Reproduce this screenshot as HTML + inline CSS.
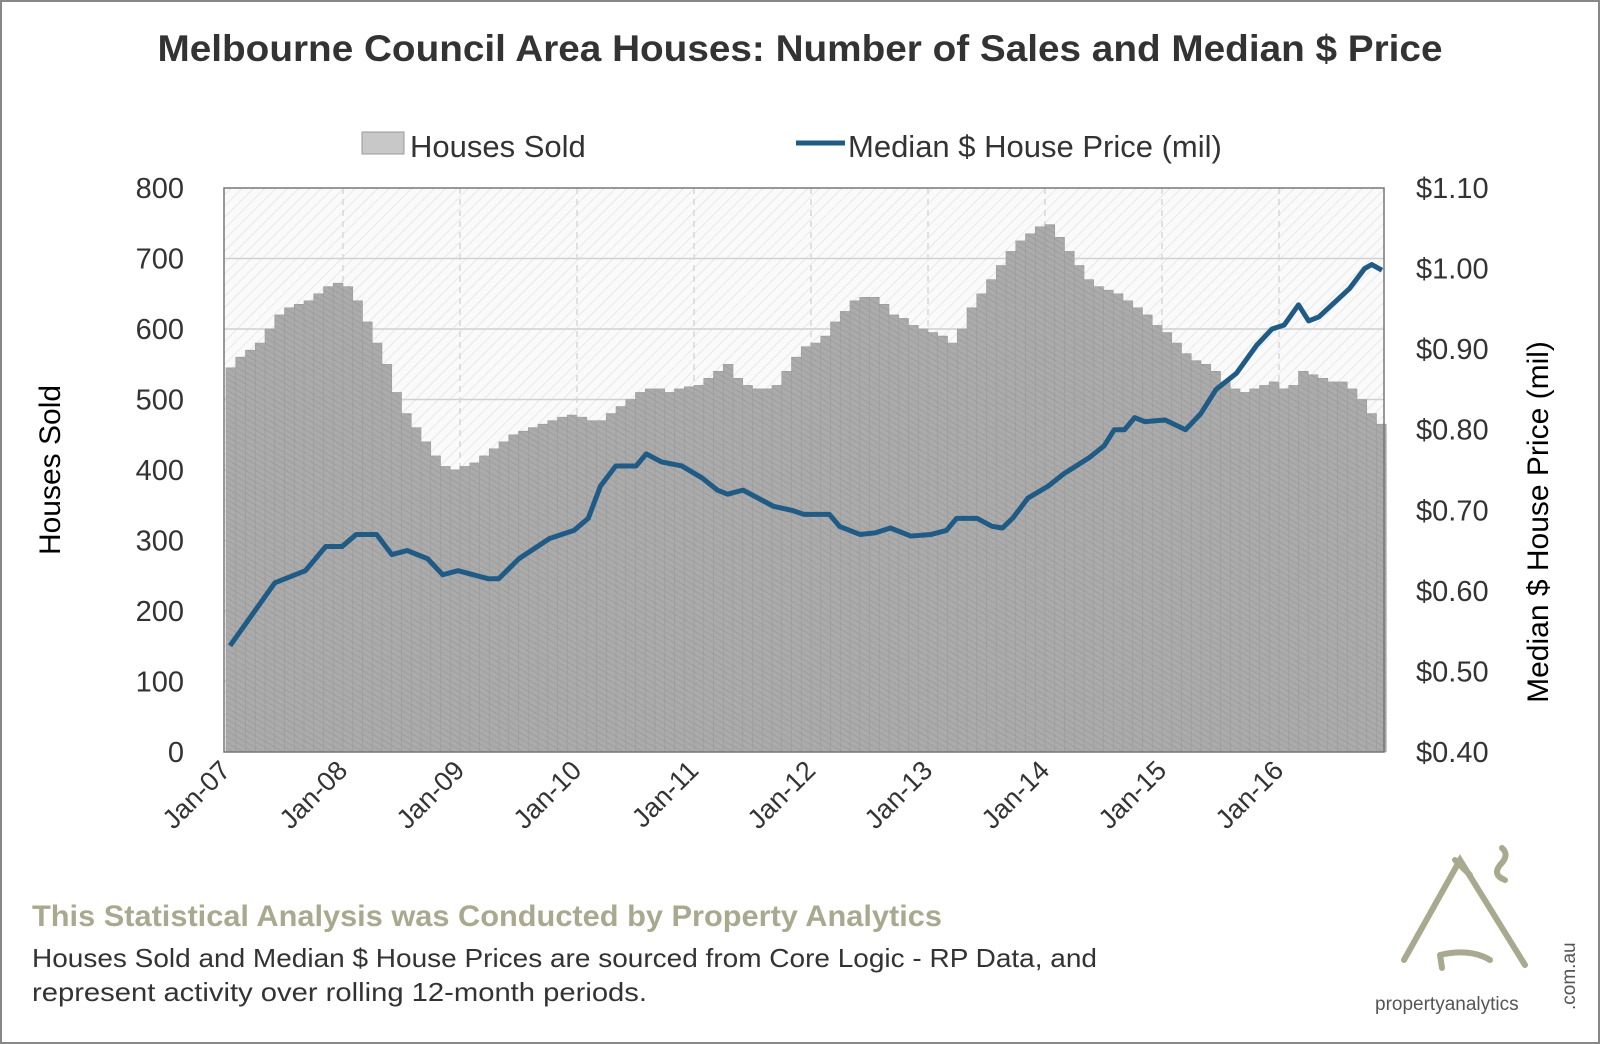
<!DOCTYPE html>
<html><head><meta charset="utf-8"><style>
body{margin:0;background:#fff;}
svg{display:block;font-family:"Liberation Sans",sans-serif;}
</style></head><body>
<svg id="s" width="1600" height="1044" viewBox="0 0 1600 1044" xmlns="http://www.w3.org/2000/svg">
<defs>
<pattern id="bg" width="8" height="8" patternUnits="userSpaceOnUse" patternTransform="rotate(45)">
<rect width="8" height="8" fill="#fafafa"/><line x1="0" y1="0" x2="0" y2="8" stroke="#e2e2e2" stroke-width="1.5"/></pattern>
<pattern id="bar" width="5" height="5" patternUnits="userSpaceOnUse" patternTransform="rotate(-60)">
<rect width="5" height="5" fill="#ababab"/><line x1="0" y1="0" x2="0" y2="5" stroke="#999" stroke-width="1.5"/></pattern>
</defs>
<rect x="1" y="1" width="1598" height="1042" fill="#fff" stroke="#888" stroke-width="2"/>
<text x="800" y="61" text-anchor="middle" font-size="37" font-weight="bold" fill="#333" textLength="1285" lengthAdjust="spacingAndGlyphs">Melbourne Council Area Houses: Number of Sales and Median $ Price</text>
<rect x="362" y="132" width="42" height="22" fill="#c8c8c8" stroke="#999"/>
<text x="410" y="157" font-size="31" fill="#333">Houses Sold</text>
<line x1="796" y1="143" x2="845" y2="143" stroke="#1f5b85" stroke-width="5"/>
<text x="848" y="157" font-size="31" fill="#333">Median $ House Price (mil)</text>
<rect x="224" y="188" width="1160" height="564" fill="url(#bg)"/>
<g id="grid"></g>
<g id="bars"></g>
<polyline id="ln" fill="none" stroke="#1f5b85" stroke-width="5" stroke-linejoin="round"/>
<rect x="224" y="188" width="1160" height="564" fill="none" stroke="#777" stroke-width="1.5"/>
<g font-size="29" fill="#333" text-anchor="end" id="ly"></g>
<g font-size="29" fill="#333" text-anchor="start" id="ry"></g>
<g font-size="27" fill="#333" id="xl"></g>
<text transform="translate(60,470) rotate(-90)" text-anchor="middle" font-size="30" fill="#000">Houses Sold</text>
<text transform="translate(1548,522) rotate(-90)" text-anchor="middle" font-size="30" fill="#000">Median $ House Price (mil)</text>
<text x="32" y="926" font-size="30" font-weight="bold" fill="#a9a98f" textLength="910" lengthAdjust="spacingAndGlyphs">This Statistical Analysis was Conducted by Property Analytics</text>
<text x="32" y="967" font-size="26" fill="#333" textLength="1065" lengthAdjust="spacingAndGlyphs">Houses Sold and Median $ House Prices are sourced from Core Logic - RP Data, and</text>
<text x="32" y="1001" font-size="26" fill="#333" textLength="615" lengthAdjust="spacingAndGlyphs">represent activity over rolling 12-month periods.</text>
<g stroke="#a9a98f" stroke-width="6" fill="none" stroke-linecap="round">
<path d="M1404 960 L1460 860 L1525 965"/>
<path d="M1455 860 L1470 875"/>
<path d="M1440 955 L1442 968 M1440 955 Q1470 948 1490 960"/>
<path d="M1502 848 Q1510 855 1500 865 Q1492 875 1505 880"/>
</g>
<text x="1375" y="1010" font-size="19" fill="#555">propertyanalytics</text>
<text transform="translate(1575,1010) rotate(-90)" font-size="19" fill="#555">.com.au</text>
</svg>
<script>
var s=[545,560,570,580,600,620,630,635,640,650,660,665,
660,640,610,580,550,510,480,460,440,420,405,400,
405,410,420,430,440,450,455,460,465,470,475,478,
475,470,470,480,490,500,510,515,515,510,515,518,
520,530,540,550,530,520,515,515,520,540,560,575,
580,590,610,625,640,645,645,635,620,615,605,600,
595,590,580,600,630,650,670,690,710,725,735,745,
748,730,710,690,670,660,655,650,640,630,620,605,
595,580,565,555,550,540,525,515,510,515,520,525,
515,520,540,535,530,525,525,515,500,480,465];
var X0=226,W=9.75,Y0=752,sc=564/800;
var NS="http://www.w3.org/2000/svg";
function el(t,a,p){var e=document.createElementNS(NS,t);for(var k in a)e.setAttribute(k,a[k]);document.getElementById(p).appendChild(e);return e;}
var d="";
s.forEach(function(v,i){var h=v*sc;d+="M"+(X0+i*W)+" "+(Y0-h)+"h"+W+"V"+Y0+"h-"+W+"Z";});
el("path",{d:d,fill:"url(#bar)",stroke:"#9a9a9a","stroke-width":"0.6"},"bars");
for(var i=1;i<8;i++){var y=Y0-i*100*sc;el("line",{x1:224,x2:1384,y1:y,y2:y,stroke:"#d0d0d0","stroke-width":1.5},"grid");}
for(var j=1;j<10;j++){var x=X0+j*12*W;el("line",{x1:x,x2:x,y1:188,y2:752,stroke:"#d8d8d8","stroke-dasharray":"6,5","stroke-width":1.5},"grid");}
for(var i=0;i<=8;i++){var t=el("text",{x:184,y:Y0-i*100*sc+10},"ly");t.textContent=i*100;}
for(var i=0;i<=7;i++){var r=el("text",{x:1416,y:Y0-i*564/7+10},"ry");r.textContent="$"+(0.4+i*0.1).toFixed(2);}
for(var j=0;j<10;j++){var x=X0+j*12*W+6;var t=el("text",{"text-anchor":"end",transform:"translate("+x+",772) rotate(-45)"},"xl");t.textContent="Jan-"+("0"+(7+j)).slice(-2);}
var p=[[226,.532],[270,.61],[300,.625],[320,.655],[336,.655],[350,.67],[370,.67],[385,.645],[400,.65],[420,.64],[435,.62],[450,.625],[480,.615],[490,.615],[510,.64],[540,.665],[564,.675],[578,.69],[590,.73],[605,.755],[625,.755],[635,.77],[650,.76],[670,.755],[690,.74],[705,.725],[715,.72],[730,.725],[745,.715],[760,.705],[778,.70],[790,.695],[815,.695],[825,.68],[845,.67],[860,.672],[875,.678],[895,.668],[915,.67],[930,.675],[940,.69],[960,.69],[975,.68],[985,.678],[995,.69],[1010,.715],[1030,.73],[1045,.745],[1070,.765],[1085,.78],[1095,.80],[1105,.80],[1115,.815],[1125,.81],[1145,.812],[1165,.80],[1180,.82],[1195,.85],[1215,.87],[1235,.905],[1250,.925],[1262,.93],[1276,.955],[1286,.935],[1296,.94],[1326,.975],[1341,1.0],[1348,1.005],[1358,.998]];
var sx=1160/1140;
document.getElementById("ln").setAttribute("points",p.map(function(q){return (226+(q[0]-222)*sx)+","+(Y0-(q[1]-0.4)*564/0.7);}).join(" "));
</script>
</body></html>
